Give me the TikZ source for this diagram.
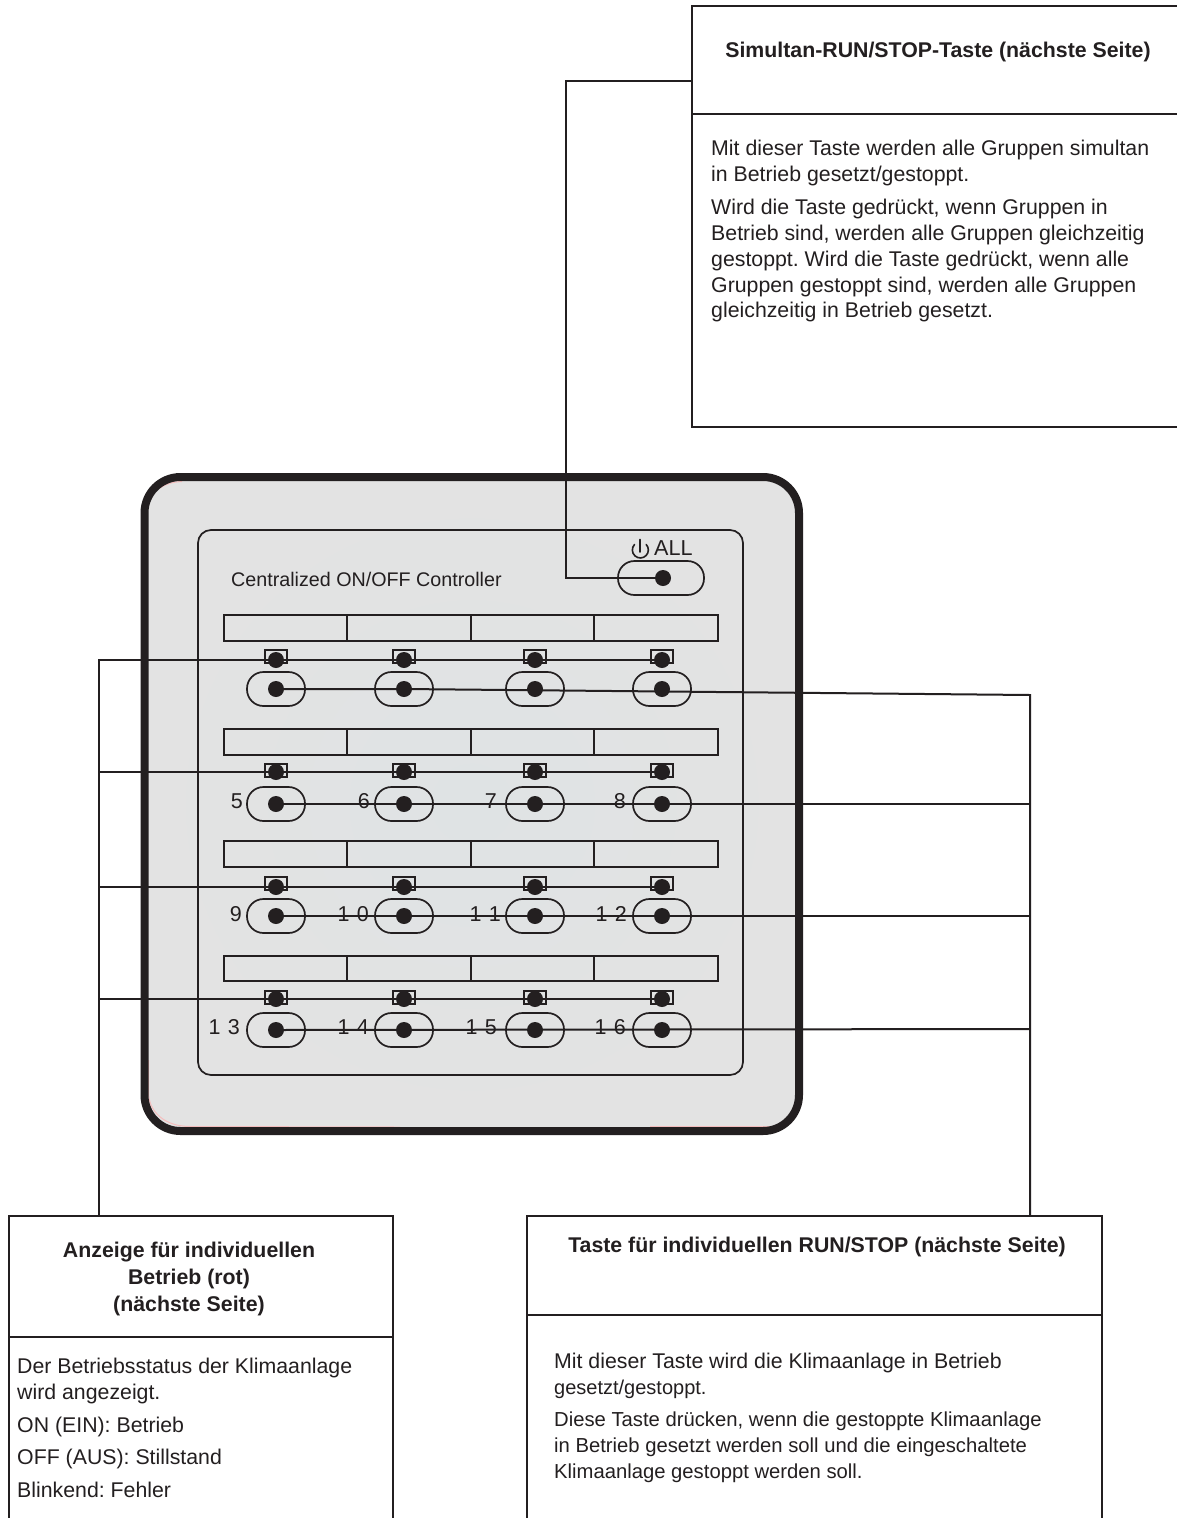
\documentclass[tikz,border=0pt]{standalone}
\usepackage{fontspec}
\setmainfont{Liberation Sans}
\frenchspacing
\definecolor{ink}{HTML}{231F20}
\definecolor{plate}{HTML}{E3E3E3}
\definecolor{platemid}{HTML}{DFE3E4}
\definecolor{pinkedge}{HTML}{F5BDBD}
\tikzset{
  x=1pt,y=-1pt,
  wire/.style={draw=ink,line width=2pt,line join=miter},
  lead/.style={draw=ink,line width=2pt},
  leadthick/.style={draw=ink,line width=2.8pt},
  strip/.style={draw=ink,line width=1.8pt},
  capsule/.style={draw=ink,line width=1.7pt,rounded corners=16.5pt},
  dotn/.style={circle,fill=ink,inner sep=0pt,minimum size=16pt},
  ledbox/.style={draw=ink,line width=1.5pt},
  txt/.style={font=\fontsize{21.3}{25.8}\selectfont,text=ink,anchor=north west,inner sep=0pt,align=left},
  txtb/.style={font=\fontsize{20.25}{25.8}\selectfont,text=ink,anchor=north west,inner sep=0pt,align=left},
  head/.style={font=\fontsize{21.3}{27}\selectfont\bfseries,text=ink,inner sep=0pt,align=center},
  panellabel/.style={font=\fontsize{19.7}{22}\selectfont,text=ink,inner sep=0pt},
  num/.style={font=\fontsize{21.5}{24}\selectfont,text=ink,inner sep=0pt,anchor=east},
}
\begin{document}
\begin{tikzpicture}
\useasboundingbox (0,0) rectangle (1176,1518);
\fill[white] (0,0) rectangle (1176,1518);

% controller plate
\path[inner color=platemid,outer color=plate,rounded corners=36pt] (144.5,477) rectangle (799,1131);
\draw[pinkedge,line width=1pt] (148.5,1060) -- (148.5,1092) .. controls (148.5,1112) and (165,1126.5) .. (190,1126.5) -- (400,1127);
\draw[pinkedge,line width=1pt] (650,1126.6) -- (770,1126.6);
\draw[pinkedge,line width=1pt] (160,488) .. controls (166,484) and (172,482) .. (182,481.5);
\draw[draw=ink,line width=8pt,rounded corners=36pt] (144.5,477) rectangle (799,1131);
\draw[draw=ink,line width=1.7pt,rounded corners=13pt] (198,530) rectangle (743,1075);

\node[panellabel,anchor=west] (title) at (231,579) {Centralized ON/OFF Controller};
\draw[draw=ink,line width=1.6pt,line cap=round] (640,539.5) -- (640,552);
\draw[draw=ink,line width=1.6pt,line cap=round] (634.5,544.5) arc[start angle=223,end angle=-43,x radius=8pt,y radius=-8pt];
\node[font=\fontsize{21.6}{24}\selectfont,text=ink,inner sep=0pt,anchor=west] (alltxt) at (654,548) {ALL};

% strips
\foreach \t/\b in {615/641,729/755,841/867,956/981}{
  \draw[strip] (224,\t) rectangle (718,\b);
  \foreach \d in {347,471,594} \draw[strip] (\d,\t) -- (\d,\b);
}

% LEDs, buttons
\foreach \r/\ly/\lb/\by in {a/660/650/689,b/772/764/804,c/887/877/916,d/999/991/1030}{
  \foreach \c/\x in {1/276,2/404,3/535,4/662}{
    \draw[ledbox] ({\x-11},\lb) rectangle ({\x+11},{\lb+13});
    \node[dotn] (L\r\c) at (\x,\ly) {};
    \draw[capsule] ({\x-29},{\by-17}) rectangle ({\x+29},{\by+17});
    \node[dotn] (B\r\c) at (\x,\by) {};
  }
}
\draw[capsule] (618,561) rectangle (704,595);
\node[dotn] (Ball) at (663,578) {};

% number labels
\node[num] (n5) at (243,801) {5};
\node[num] (n6) at (370,801) {6};
\node[num] (n7) at (497,801) {7};
\node[num] (n8) at (626,801) {8};
\node[num] (n9) at (242,914) {9};
\node[num] (n10) at (369,914) {1\,\,0};
\node[num] (n11) at (501,914) {1\,\,1};
\node[num] (n12) at (627,914) {1\,\,2};
\node[num] (n13) at (240,1027) {1\,\,3};
\node[num] (n14) at (369,1027) {1\,\,4};
\node[num] (n15) at (497,1027) {1\,\,5};
\node[num] (n16) at (626,1027) {1\,\,6};

% boxes
\draw[lead] (1177,5.5) -- (692,5.5) -- (692,427) -- (1177,427);
\draw[leadthick] (692,114) -- (1177,114);
\draw[lead] (9,1519) -- (9,1216) -- (393,1216) -- (393,1519);
\draw[leadthick] (9,1337) -- (393,1337);
\draw[lead] (527,1519) -- (527,1216) -- (1102,1216) -- (1102,1519);
\draw[leadthick] (527,1315) -- (1102,1315);

\coordinate (topbox) at (692,81);
\coordinate (leftbox) at (99,1216);
\coordinate (rightbox) at (1030,1216);

% leaders
\draw[wire] (topbox) -- (566,81) -- (566,578) -- (Ball.center);
\draw[wire] (leftbox) -- (99,660) -- (La4.center);
\draw[wire] (99,772) -- (Lb4.center);
\draw[wire] (99,887) -- (Lc4.center);
\draw[wire] (99,999) -- (Ld4.center);
\draw[wire] (rightbox) -- (1030,695) -- (Ba2.center) -- (Ba1.center);
\draw[wire] (Bb1.center) -- (1030,804);
\draw[wire] (Bc1.center) -- (1030,916);
\draw[wire] (Bd1.center) -- (1030,1029);

% texts
\node[head,anchor=center] (h1) at (938,52) {Simultan-RUN/STOP-Taste (nächste Seite)};
\node[txt] (t1) at (711,140) {Mit dieser Taste werden alle Gruppen simultan\\in Betrieb gesetzt/gestoppt.};
\node[txt] (t2) at (711,199) {Wird die Taste gedrückt, wenn Gruppen in\\Betrieb sind, werden alle Gruppen gleichzeitig\\gestoppt. Wird die Taste gedrückt, wenn alle\\Gruppen gestoppt sind, werden alle Gruppen\\gleichzeitig in Betrieb gesetzt.};

\node[head,anchor=center] (h2) at (189,1279) {Anzeige für individuellen\\Betrieb (rot)\\(nächste Seite)};
\node[txt] (t3) at (17,1358) {Der Betriebsstatus der Klimaanlage\\wird angezeigt.};
\node[txt] (t4) at (17,1417) {ON (EIN): Betrieb};
\node[txt] (t5) at (17,1449) {OFF (AUS): Stillstand};
\node[txt] (t6) at (17,1482) {Blinkend: Fehler};

\node[head,anchor=center] (h3) at (817,1247) {Taste für individuellen RUN/STOP (nächste Seite)};
\node[txt] (t7) at (554,1353) {Mit dieser Taste wird die Klimaanlage in Betrieb\\\fontsize{20}{25.8}\selectfont gesetzt/gestoppt.};
\node[txtb] (t8) at (554,1412) {Diese Taste drücken, wenn die gestoppte Klimaanlage\\in Betrieb gesetzt werden soll und die eingeschaltete\\Klimaanlage gestoppt werden soll.};
\end{tikzpicture}
\end{document}
